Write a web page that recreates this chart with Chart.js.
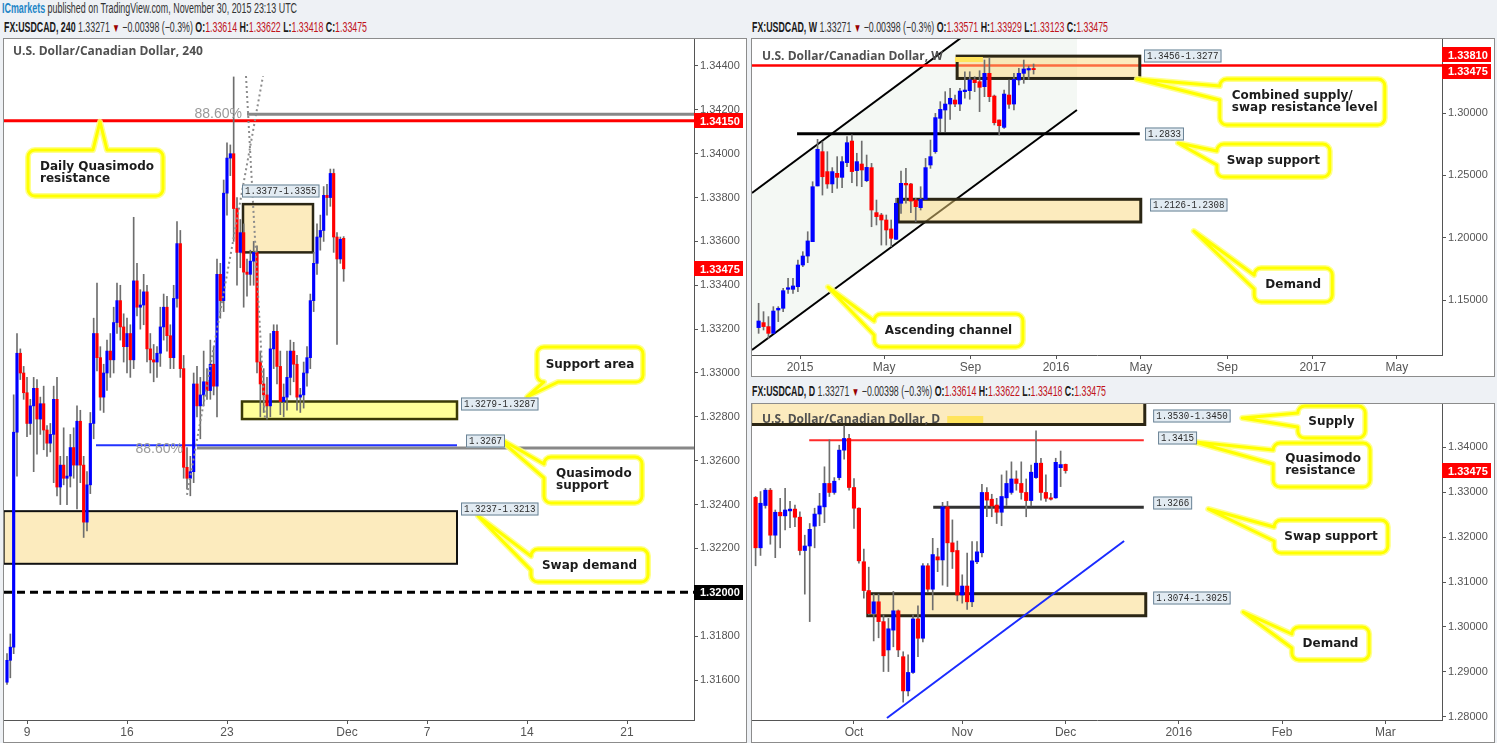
<!DOCTYPE html>
<html>
<head>
<meta charset="utf-8">
<title>USDCAD 240 / W / D</title>
<script src="https://cdn.jsdelivr.net/npm/chart.js@4.4.1/dist/chart.umd.min.js"></script>
<style>
  html, body { margin: 0; padding: 0; }
  body { width: 1497px; height: 743px; background: #eef1f5; position: relative; overflow: hidden; font-family: "Liberation Sans", Arial, sans-serif; }
  .line { position: absolute; white-space: nowrap; font-size: 14px; line-height: 16px; color: #333; transform-origin: 0 50%; }
  .line b { color: #1a1a1a; }
  .brand { color: #1f86c7; font-weight: bold; }
  .r { color: #c0131b; }
  .dn { color: #990000; font-size: 12px; }
  .panel { position: absolute; border: 1px solid #8c8c8c; background: #fff; }
  .panel canvas { display: block; }
</style>
</head>
<body>

<div class="line" data-w="295" style="left:2px;top:0px"><span class="brand">ICmarkets</span> published on TradingView.com, November 30, 2015 23:13 UTC</div>
<div class="line" data-w="363" style="left:4px;top:19px"><b>FX:USDCAD, 240</b> 1.33271 <span class="dn">&#9660;</span> &minus;0.00398 (&minus;0.3%) <b>O:</b><span class="r">1.33614</span> <b>H:</b><span class="r">1.33622</span> <b>L:</b><span class="r">1.33418</span> <b>C:</b><span class="r">1.33475</span></div>
<div class="line" data-w="356" style="left:752px;top:19px"><b>FX:USDCAD, W</b> 1.33271 <span class="dn">&#9660;</span> &minus;0.00398 (&minus;0.3%) <b>O:</b><span class="r">1.33571</span> <b>H:</b><span class="r">1.33929</span> <b>L:</b><span class="r">1.33123</span> <b>C:</b><span class="r">1.33475</span></div>
<div class="line" data-w="354" style="left:752px;top:383px"><b>FX:USDCAD, D</b> 1.33271 <span class="dn">&#9660;</span> &minus;0.00398 (&minus;0.3%) <b>O:</b><span class="r">1.33614</span> <b>H:</b><span class="r">1.33622</span> <b>L:</b><span class="r">1.33418</span> <b>C:</b><span class="r">1.33475</span></div>

<div class="panel" style="left:3px;top:38px;width:742px;height:703px"><canvas id="c4h" width="742" height="703"></canvas></div>
<div class="panel" style="left:751px;top:38px;width:742px;height:337px"><canvas id="cw" width="742" height="337"></canvas></div>
<div class="panel" style="left:751px;top:403px;width:742px;height:338px"><canvas id="cd" width="742" height="338"></canvas></div>

<script>
// ---------- 240 minute bars (6 per trading day, bar 0 = first bar of Nov 9) ----------
const H4_START = -6;
const H4_OPEN = [1.3159,1.3169,1.3175,1.3273,1.3309,1.3300,
  1.3291,1.3277,1.3285,1.3293,1.3279,1.3286, 1.3274,1.3268,1.3272,1.3288,1.3248,1.3258,
  1.3252,1.3253,1.3266,1.3258,1.3278,1.3258, 1.3232,1.3249,1.3277,1.3318,1.3307,1.3289,
  1.3300,1.3310,1.3306,1.3323,1.3333,1.3321, 1.3312,1.3318,1.3306,1.3342,1.3330,1.3331,
  1.3337,1.3311,1.3306,1.3305,1.3309,1.3321, 1.3330,1.3317,1.3307,1.3334,1.3359,1.3302,
  1.3257,1.3252,1.3255,1.3295,1.3285,1.3290, 1.3296,1.3292,1.3304,1.3294,1.3345,1.3333,
  1.3382,1.3398,1.3400,1.3375,1.3355,1.3364, 1.3346,1.3345,1.3351,1.3355,1.3305,1.3295,
  1.3290,1.3285,1.3311,1.3319,1.3303,1.3287, 1.3289,1.3298,1.3310,1.3304,1.3289,1.3290,
  1.3300,1.3307,1.3333,1.3350,1.3362,1.3365, 1.3381,1.3380,1.3391,1.3362,1.3352,1.33614];
const H4_HIGH = [1.3172,1.3181,1.3290,1.3318,1.3311,1.3303,
  1.3298,1.3288,1.3298,1.3297,1.3289,1.3294, 1.3276,1.3277,1.3294,1.3298,1.3262,1.3275,
  1.3262,1.3272,1.3275,1.3285,1.3283,1.3262, 1.3255,1.3282,1.3325,1.3341,1.3312,1.3304,
  1.3315,1.3318,1.3330,1.3341,1.3340,1.3327, 1.3325,1.3322,1.3371,1.3350,1.3338,1.3345,
  1.3340,1.3318,1.3313,1.3312,1.3330,1.3336, 1.3335,1.3322,1.3340,1.3369,1.3365,1.3308,
  1.3266,1.3262,1.3300,1.3303,1.3298,1.3310, 1.3302,1.3315,1.3312,1.3352,1.3350,1.3388,
  1.3405,1.3404,1.3435,1.3380,1.3370,1.3368, 1.3352,1.3356,1.3360,1.3358,1.3310,1.3302,
  1.3298,1.3318,1.3322,1.3322,1.3310,1.3295, 1.3310,1.3315,1.3314,1.3308,1.3293,1.3305,
  1.3312,1.3336,1.3355,1.3368,1.3372,1.3385, 1.3386,1.3393,1.3393,1.3364,1.3362,1.33622];
const H4_LOW = [1.3158,1.3161,1.3172,1.3253,1.3297,1.3288,
  1.3271,1.3272,1.3255,1.3263,1.3272,1.3265, 1.3262,1.3264,1.3250,1.3244,1.3240,1.3249,
  1.3240,1.3248,1.3252,1.3238,1.3250,1.3225, 1.3228,1.3245,1.3270,1.3301,1.3283,1.3282,
  1.3292,1.3298,1.3300,1.3318,1.3315,1.3305, 1.3300,1.3298,1.3302,1.3326,1.3320,1.3322,
  1.3305,1.3300,1.3296,1.3298,1.3303,1.3315, 1.3310,1.3302,1.3302,1.3330,1.3298,1.3252,
  1.3247,1.3244,1.3250,1.3280,1.3270,1.3285, 1.3288,1.3288,1.3290,1.3280,1.3325,1.3328,
  1.3372,1.3390,1.3360,1.3340,1.3348,1.3330, 1.3335,1.3340,1.3340,1.3300,1.3280,1.3282,
  1.3279,1.3280,1.3302,1.3295,1.3281,1.3280, 1.3283,1.3290,1.3296,1.3283,1.3282,1.3284,
  1.3294,1.3302,1.3328,1.3345,1.3356,1.3360, 1.3372,1.3376,1.3355,1.3313,1.3350,1.33418];
const H4_CLOSE = [1.3169,1.3175,1.3273,1.3309,1.3300,1.3291,
  1.3277,1.3285,1.3293,1.3279,1.3286,1.3274, 1.3268,1.3272,1.3288,1.3248,1.3258,1.3252,
  1.3253,1.3266,1.3258,1.3278,1.3258,1.3232, 1.3249,1.3277,1.3318,1.3307,1.3289,1.3300,
  1.3310,1.3306,1.3323,1.3333,1.3321,1.3312, 1.3318,1.3306,1.3342,1.3330,1.3331,1.3337,
  1.3311,1.3306,1.3305,1.3309,1.3321,1.3330, 1.3317,1.3307,1.3334,1.3359,1.3302,1.3257,
  1.3252,1.3255,1.3295,1.3285,1.3290,1.3296, 1.3292,1.3304,1.3294,1.3345,1.3333,1.3382,
  1.3398,1.3400,1.3375,1.3355,1.3364,1.3346, 1.3345,1.3351,1.3355,1.3305,1.3295,1.3290,
  1.3285,1.3311,1.3319,1.3303,1.3287,1.3289, 1.3298,1.3310,1.3304,1.3289,1.3290,1.3300,
  1.3307,1.3333,1.3350,1.3362,1.3365,1.3381, 1.3380,1.3391,1.3362,1.3352,1.3361,1.33475];
const H4_XTICKS = [0, 30, 60, 96, 120, 150, 180];
const H4_XLABELS = ['9', '16', '23', 'Dec', '7', '14', '21'];
const H4_YTICKS = [1.316, 1.318, 1.320, 1.322, 1.324, 1.326, 1.328, 1.330, 1.332, 1.334, 1.336, 1.338, 1.340, 1.342, 1.344];

// ---------- weekly bars (first bar = week of 2014-11-03) ----------
const W_FIRST = '2014-11-03';
const W_OPEN = [1.1279,1.1319,1.1287,1.1233,1.1420,1.1434,1.1586,1.1586,1.1607,1.1781,1.1853,1.1968,1.2415,1.2690,1.2530,1.2431,1.2516,1.2484,1.2602,1.2775,
  1.2538,1.2591,1.2457,1.2562,1.2201,1.2182,1.2142,1.2070,1.1987,1.2276,1.2436,1.2431,1.2302,1.2241,1.2308,1.2583,1.2690,1.2957,1.3024,1.3072,
  1.3104,1.3072,1.3171,1.3179,1.3265,1.3251,1.3211,1.3318,1.3136,1.2944,1.2885,1.3144,1.3072,1.3265,1.3318,1.3345,1.33571];
const W_HIGH = [1.1474,1.1407,1.1367,1.1447,1.1447,1.1594,1.1674,1.1674,1.1821,1.1888,1.2048,1.2449,1.2789,1.2770,1.2690,1.2562,1.2650,1.2650,1.2810,1.2824,
  1.2677,1.2775,1.2663,1.2596,1.2302,1.2195,1.2182,1.2142,1.2316,1.2535,1.2556,1.2436,1.2316,1.2409,1.2636,1.2783,1.2997,1.3091,1.3171,1.3198,
  1.3144,1.3198,1.3331,1.3331,1.3291,1.3339,1.3425,1.3438,1.3144,1.2944,1.3184,1.3265,1.3318,1.3358,1.3425,1.3377,1.33929];
const W_LOW = [1.1233,1.1260,1.1193,1.1233,1.1327,1.1407,1.1554,1.1554,1.1567,1.1768,1.1800,1.1968,1.2415,1.2342,1.2396,1.2361,1.2396,1.2401,1.2570,1.2441,
  1.2415,1.2409,1.2449,1.2088,1.2102,1.1941,1.1941,1.1928,1.1987,1.2195,1.2276,1.2201,1.2129,1.2222,1.2308,1.2556,1.2677,1.2850,1.2850,1.2949,
  1.3051,1.3019,1.3118,1.3110,1.3171,1.3011,1.3131,1.3091,1.2904,1.2824,1.2877,1.3037,1.3024,1.3225,1.3238,1.3270,1.33123];
const W_CLOSE = [1.1332,1.1287,1.1233,1.1412,1.1434,1.1575,1.1599,1.1613,1.1781,1.1853,1.1974,1.2409,1.2709,1.2489,1.2431,1.2530,1.2484,1.2610,1.2762,1.2530,
  1.2610,1.2543,1.2564,1.2222,1.2169,1.2142,1.2062,1.1995,1.2276,1.2436,1.2423,1.2294,1.2249,1.2308,1.2562,1.2650,1.2963,1.3029,1.3072,1.3118,
  1.3072,1.3176,1.3184,1.3265,1.3243,1.3206,1.3318,1.3131,1.2922,1.2898,1.3152,1.3070,1.3270,1.3318,1.3353,1.3357,1.33475];
const W_TICK_DATES = ['2015-01-01', '2015-05-01', '2015-09-01', '2016-01-01', '2016-05-01', '2016-09-01', '2017-01-01', '2017-05-01'];
const W_XLABELS = ['2015', 'May', 'Sep', '2016', 'May', 'Sep', '2017', 'May'];
const W_YTICKS = [1.15, 1.20, 1.25, 1.30];

// ---------- daily bars (weekdays, index 0 = Oct 1 2015) ----------
const D_START = -20;
const D_OPEN = [1.3288,1.3176,1.3270,1.3304,1.3204,1.3255,1.3247,1.3258,1.3262,1.3244,1.3170,1.3180,1.3224,1.3251,1.3267,1.3319,1.3299,1.3332,1.3393,1.3419,
  1.3310,1.3264,1.3145,1.3081,1.3030,1.3056,1.3012,1.2949,1.2993,1.3036,1.2934,1.2858,1.2899,1.3018,1.2975,1.3136,1.3084,1.3156,1.3149,1.3267,
  1.3187,1.3170,1.3071,1.3091,1.3056,1.3145,1.3165,1.3299,1.3284,1.3271,1.3255,1.3287,1.3299,1.3329,1.3319,1.3299,1.3281,1.3332,1.3364,1.3299,
  1.3287,1.3287,1.3354,1.33614];
const D_HIGH = [1.3290,1.3301,1.3308,1.3308,1.3260,1.3286,1.3308,1.3279,1.3271,1.3256,1.3204,1.3230,1.3264,1.3297,1.3356,1.3416,1.3332,1.3404,1.3447,1.3428,
  1.3330,1.3265,1.3173,1.3133,1.3073,1.3073,1.3027,1.3019,1.3079,1.3038,1.2945,1.2938,1.3027,1.3047,1.3141,1.3141,1.3197,1.3175,1.3277,1.3279,
  1.3238,1.3191,1.3116,1.3164,1.3190,1.3190,1.3317,1.3310,1.3295,1.3286,1.3338,1.3347,1.3367,1.3347,1.3367,1.3329,1.3360,1.3436,1.3375,1.3338,
  1.3297,1.3375,1.3391,1.33622];
const D_LOW = [1.3136,1.3159,1.3264,1.3184,1.3154,1.3176,1.3216,1.3221,1.3223,1.3160,1.3073,1.3012,1.3176,1.3225,1.3232,1.3290,1.3295,1.3327,1.3373,1.3304,
  1.3219,1.3142,1.3064,1.3027,1.2969,1.2976,1.2901,1.2901,1.2956,1.2934,1.2833,1.2847,1.2897,1.2934,1.2967,1.3079,1.3038,1.3123,1.3093,1.3090,
  1.3130,1.3058,1.3053,1.3039,1.3045,1.3141,1.3156,1.3245,1.3245,1.3230,1.3225,1.3270,1.3295,1.3304,1.3284,1.3245,1.3269,1.3330,1.3282,1.3279,
  1.3282,1.3286,1.3312,1.33418];
const D_CLOSE = [1.3176,1.3275,1.3304,1.3204,1.3255,1.3247,1.3260,1.3262,1.3244,1.3170,1.3180,1.3217,1.3251,1.3269,1.3319,1.3299,1.3324,1.3393,1.3419,1.3310,
  1.3264,1.3147,1.3081,1.3030,1.3056,1.3012,1.2936,1.2996,1.3036,1.2949,1.2858,1.2899,1.3018,1.2975,1.3136,1.3084,1.3161,1.3149,1.3267,1.3187,
  1.3167,1.3071,1.3091,1.3056,1.3147,1.3167,1.3299,1.3282,1.3269,1.3255,1.3290,1.3319,1.3329,1.3319,1.3299,1.3281,1.3344,1.3364,1.3299,1.3286,
  1.3284,1.3366,1.3361,1.33475];
const D_XTICKS = [0, 22, 43, 66, 87, 108];
const D_XLABELS = ['Oct', 'Nov', 'Dec', '2016', 'Feb', 'Mar'];
const D_YTICKS = [1.28, 1.29, 1.30, 1.31, 1.32, 1.33, 1.34];

const LAST = 1.33475;

// ---------- helpers ----------
const CREAM = 'rgba(249,215,126,0.5)';
const BOX_EDGE = '#2b2614';

function candleSets(xs, o, h, l, c, bodyW) {
  const col = o.map((v, i) => (c[i] >= v ? '#0000ff' : '#ff0000'));
  return [
    { data: xs.map((x, i) => ({ x, y: [l[i], h[i]] })), backgroundColor: '#6e6e6e', barThickness: 1, grouped: false, order: 2 },
    { data: xs.map((x, i) => ({ x, y: [o[i], c[i]] })), backgroundColor: col, barThickness: bodyW, minBarLength: 1, grouped: false, order: 1 }
  ];
}

function callout(ctx, bx1, by1, bx2, by2, tx, ty, side, lines) {
  const r = 7, hw = 7;
  const cl = (v, lo, hi) => Math.max(lo, Math.min(hi, v));
  ctx.beginPath();
  ctx.moveTo(bx1 + r, by1);
  if (side === 'top') {
    const c = cl(tx, bx1 + r + hw, bx2 - r - hw);
    ctx.lineTo(c - hw, by1); ctx.lineTo(tx, ty); ctx.lineTo(c + hw, by1);
  }
  ctx.lineTo(bx2 - r, by1); ctx.arcTo(bx2, by1, bx2, by1 + r, r);
  ctx.lineTo(bx2, by2 - r); ctx.arcTo(bx2, by2, bx2 - r, by2, r);
  if (side === 'bottom') {
    const c = cl(tx, bx1 + r + hw, bx2 - r - hw);
    ctx.lineTo(c + hw, by2); ctx.lineTo(tx, ty); ctx.lineTo(c - hw, by2);
  }
  ctx.lineTo(bx1 + r, by2); ctx.arcTo(bx1, by2, bx1, by2 - r, r);
  if (side === 'left') {
    const c = cl(ty, by1 + r + hw, by2 - r - hw);
    ctx.lineTo(bx1, c + hw); ctx.lineTo(tx, ty); ctx.lineTo(bx1, c - hw);
  }
  ctx.lineTo(bx1, by1 + r); ctx.arcTo(bx1, by1, bx1 + r, by1, r);
  ctx.closePath();
  ctx.fillStyle = '#fff'; ctx.fill();
  ctx.lineJoin = 'round';
  ctx.strokeStyle = 'rgba(255,255,120,0.85)'; ctx.lineWidth = 6; ctx.stroke();
  ctx.strokeStyle = '#ffff00'; ctx.lineWidth = 3; ctx.stroke();

  ctx.fillStyle = '#1c1c1c';
  ctx.font = 'bold 12px "DejaVu Sans"';
  ctx.textBaseline = 'middle';
  const cy = (by1 + by2) / 2, n = lines.length;
  lines.forEach((s, i) => {
    const y = cy + (i - (n - 1) / 2) * 12.5;
    if (n === 1) { ctx.textAlign = 'center'; ctx.fillText(s, (bx1 + bx2) / 2, y); }
    else { ctx.textAlign = 'left'; ctx.fillText(s, bx1 + 12, y); }
  });
}

function paint(chart, items) {
  const { ctx, chartArea: a } = chart;
  const X = v => chart.scales.x.getPixelForValue(v);
  const Y = v => chart.scales.y.getPixelForValue(v);
  ctx.save();
  ctx.beginPath(); ctx.rect(a.left, a.top, a.right - a.left, a.bottom - a.top); ctx.clip();
  items.forEach(it => {
    ctx.save();
    ctx.setLineDash(it.dash || []);
    if (it.t === 'hline') {
      const x1 = it.x1 == null ? a.left : X(it.x1), x2 = it.x2 == null ? a.right : X(it.x2);
      ctx.strokeStyle = it.color; ctx.lineWidth = it.w;
      ctx.beginPath(); ctx.moveTo(x1, Y(it.y)); ctx.lineTo(x2, Y(it.y)); ctx.stroke();
    } else if (it.t === 'seg') {
      ctx.strokeStyle = it.color; ctx.lineWidth = it.w;
      ctx.beginPath(); ctx.moveTo(X(it.x1), Y(it.y1)); ctx.lineTo(X(it.x2), Y(it.y2)); ctx.stroke();
    } else if (it.t === 'poly') {
      ctx.fillStyle = it.fill;
      ctx.beginPath();
      it.pts.forEach((p, i) => (i ? ctx.lineTo(X(p[0]), Y(p[1])) : ctx.moveTo(X(p[0]), Y(p[1]))));
      ctx.closePath(); ctx.fill();
    } else if (it.t === 'box') {
      const x1 = X(it.x1), x2 = X(it.x2), y1 = Y(it.y1), y2 = Y(it.y2);
      ctx.fillStyle = it.fill; ctx.fillRect(x1, y1, x2 - x1, y2 - y1);
      ctx.strokeStyle = it.stroke; ctx.lineWidth = it.w; ctx.strokeRect(x1, y1, x2 - x1, y2 - y1);
    } else if (it.t === 'text') {
      ctx.font = it.font; ctx.fillStyle = it.color; ctx.textAlign = it.align || 'left'; ctx.textBaseline = 'middle';
      ctx.fillText(it.text, X(it.x), Y(it.y));
    } else if (it.t === 'tag') {
      const w = it.text.length * 5.5, x = X(it.x), y = Math.round(Y(it.y));
      ctx.fillStyle = '#e2ebf2'; ctx.fillRect(x, y - 6.5, w + 6, 13);
      ctx.strokeStyle = '#6b8396'; ctx.lineWidth = 1; ctx.strokeRect(x + 0.5, y - 6, w + 5, 12);
      ctx.fillStyle = '#2a2a2a'; ctx.font = '11px "Liberation Mono"'; ctx.textAlign = 'left'; ctx.textBaseline = 'middle';
      ctx.fillText(it.text, x + 3, y + 0.5, w);
    } else if (it.t === 'callout') {
      callout(ctx, X(it.x1), Y(it.y1), X(it.x2), Y(it.y2), X(it.tx), Y(it.ty), it.side, it.lines);
    } else if (it.t === 'title') {
      ctx.font = 'bold 12px "Open Sans"'; ctx.fillStyle = '#505050'; ctx.textAlign = 'left'; ctx.textBaseline = 'middle';
      const tw = Math.min(ctx.measureText(it.text).width, it.width);
      ctx.fillText(it.text, a.left + it.dx, a.top + it.dy, it.width);
      if (it.mark) {
        ctx.fillStyle = '#ffe45c';
        ctx.fillRect(a.left + it.dx + tw + it.mark.gap, a.top + it.dy + it.mark.dy, it.mark.w, it.mark.h);
      }
    }
    ctx.restore();
  });
  ctx.restore();
}

function paintTags(chart, tags) {
  const { ctx, chartArea: a, width } = chart;
  tags.forEach(tg => {
    const y = chart.scales.y.getPixelForValue(tg.y) + (tg.shift || 0);
    ctx.fillStyle = tg.bg;
    ctx.fillRect(a.right, Math.round(y - 7.5), width - a.right - 3, 15);
    ctx.fillStyle = '#fff';
    ctx.font = 'bold 11px "Liberation Sans"';
    ctx.textAlign = 'left'; ctx.textBaseline = 'middle';
    ctx.fillText(tg.text, a.right + 6, Math.round(y) + 0.5);
  });
}

function annotPlugin(spec) {
  return {
    id: 'annot',
    beforeDatasetsDraw(chart) { paint(chart, spec.under || []); },
    afterDatasetsDraw(chart) { paint(chart, spec.over || []); },
    afterDraw(chart) { paintTags(chart, spec.tags || []); }
  };
}

function axisGrid() {
  return { display: true, drawOnChartArea: false, drawTicks: true, tickLength: 4, color: '#555', offset: false };
}

function buildChart(id, spec) {
  return new Chart(document.getElementById(id), {
    type: 'bar',
    data: { datasets: spec.datasets },
    options: {
      responsive: false,
      animation: false,
      devicePixelRatio: 1,
      layout: { padding: 0 },
      plugins: { legend: { display: false }, tooltip: { enabled: false } },
      scales: {
        x: {
          type: 'linear', min: spec.xMin, max: spec.xMax, offset: false,
          grid: axisGrid(),
          border: { display: true, color: '#555' },
          ticks: {
            autoSkip: false, maxRotation: 0, color: '#555', padding: 1,
            font: { family: 'Liberation Sans', size: 12 },
            callback: (v, i) => spec.xLabels[i]
          },
          afterBuildTicks: s => { s.ticks = spec.xTicks.map(v => ({ value: v })); },
          afterFit: s => { s.height = spec.xAxisH; s.paddingLeft = 0; s.paddingRight = 0; }
        },
        y: {
          type: 'linear', position: 'right', min: spec.yMin, max: spec.yMax,
          grid: axisGrid(),
          border: { display: true, color: '#555' },
          ticks: {
            color: '#555', padding: 2,
            font: { family: 'Liberation Sans', size: 11 },
            callback: v => Number(v).toFixed(5)
          },
          afterBuildTicks: s => { s.ticks = spec.yTicks.map(v => ({ value: v })); },
          afterFit: s => { s.width = 52; s.paddingTop = 0; s.paddingBottom = 0; }
        }
      }
    },
    plugins: [annotPlugin(spec.annot)]
  });
}

// ---------- 240 chart ----------
const h4X = H4_OPEN.map((_, i) => H4_START + i);
buildChart('c4h', {
  datasets: candleSets(h4X, H4_OPEN, H4_HIGH, H4_LOW, H4_CLOSE, 2.5),
  xMin: -6.9, xMax: 200.1, yMin: 1.314177, yMax: 1.345230, xAxisH: 22,
  xTicks: H4_XTICKS, xLabels: H4_XLABELS, yTicks: H4_YTICKS,
  annot: {
    under: [
      { t: 'hline', y: 1.3415, color: '#ff0000', w: 3 },
      { t: 'hline', y: 1.3418, x1: 66, color: '#888', w: 3 },
      { t: 'hline', y: 1.32658, x1: 51, color: '#888', w: 3 },
      { t: 'hline', y: 1.3267, x1: 20.7, x2: 129, color: '#2233ff', w: 2 },
      { t: 'hline', y: 1.3200, color: '#000', w: 3, dash: [8, 5] },
      { t: 'box', x1: -7, x2: 129, y1: 1.3237, y2: 1.3213, fill: CREAM, stroke: '#111', w: 2 },
      { t: 'box', x1: 64.5, x2: 129, y1: 1.3287, y2: 1.3279, fill: 'rgba(255,255,90,0.62)', stroke: '#3a3a05', w: 2.5 },
      { t: 'box', x1: 64.8, x2: 85.8, y1: 1.3377, y2: 1.3355, fill: CREAM, stroke: BOX_EDGE, w: 2.5 }
    ],
    over: [
      { t: 'seg', x1: 48, y1: 1.32444, x2: 70.8, y2: 1.34354, color: '#8c8c8c', w: 2, dash: [2, 3] },
      { t: 'seg', x1: 65.7, y1: 1.34354, x2: 71.4, y2: 1.32786, color: '#8c8c8c', w: 2, dash: [2, 3] },
      { t: 'text', x: 64.5, y: 1.3418, text: '88.60%', font: '14px "Liberation Sans"', color: '#9a9a9a', align: 'right' },
      { t: 'text', x: 46.8, y: 1.32654, text: '88.60%', font: '14px "Liberation Sans"', color: '#9a9a9a', align: 'right' },
      { t: 'callout', x1: 0.3, x2: 40.8, y1: 1.34017, y2: 1.33807, tx: 21.9, ty: 1.34145, side: 'top', lines: ['Daily Quasimodo', 'resistance'] },
      { t: 'callout', x1: 153, x2: 184.8, y1: 1.33119, y2: 1.32959, tx: 150, ty: 1.32891, side: 'bottom', lines: ['Support area'] },
      { t: 'callout', x1: 155.1, x2: 184.5, y1: 1.32617, y2: 1.32407, tx: 141, ty: 1.32708, side: 'left', lines: ['Quasimodo', 'support'] },
      { t: 'callout', x1: 151.2, x2: 186.3, y1: 1.32197, y2: 1.32047, tx: 135.3, ty: 1.32348, side: 'left', lines: ['Swap demand'] },
      { t: 'tag', x: 64.5, y: 1.3383, text: '1.3377-1.3355' },
      { t: 'tag', x: 130.2, y: 1.32859, text: '1.3279-1.3287' },
      { t: 'tag', x: 131.7, y: 1.32688, text: '1.3267' },
      { t: 'tag', x: 130.2, y: 1.32382, text: '1.3237-1.3213' },
      { t: 'title', text: 'U.S. Dollar/Canadian Dollar, 240', dx: 9, dy: 13, width: 197 }
    ],
    tags: [
      { y: 1.3415, text: '1.34150', bg: '#ff0000' },
      { y: LAST, text: '1.33475', bg: '#ff0000' },
      { y: 1.3200, text: '1.32000', bg: '#000000' }
    ]
  }
});

// ---------- weekly chart ----------
const WEEK = 7 * 86400000, W_ORIGIN = Date.UTC(2015, 0, 1);
const wx = t => (t - W_ORIGIN) / WEEK;
const wX = W_OPEN.map((_, i) => wx(Date.parse(W_FIRST) + i * WEEK));
buildChart('cw', {
  datasets: candleSets(wX, W_OPEN, W_HIGH, W_LOW, W_CLOSE, 3.5),
  xMin: -9.776, xMax: 130.75, yMin: 1.105934, yMax: 1.359343, xAxisH: 21,
  xTicks: W_TICK_DATES.map(s => wx(Date.parse(s))), xLabels: W_XLABELS, yTicks: W_YTICKS,
  annot: {
    under: [
      { t: 'poly', pts: [[-9.78, 1.1099], [56.4, 1.3024], [56.4, 1.4293], [-9.78, 1.2358]], fill: '#f4f8f4' },
      { t: 'seg', x1: -9.78, y1: 1.2358, x2: 56.4, y2: 1.4293, color: '#000', w: 2 },
      { t: 'seg', x1: -9.78, y1: 1.1099, x2: 56.4, y2: 1.3024, color: '#000', w: 2 },
      { t: 'hline', y: 1.3381, color: '#ff0000', w: 2.5 },
      { t: 'hline', y: 1.2833, x1: -0.6, x2: 69.2, color: '#000', w: 3 },
      { t: 'box', x1: 32.0, x2: 69.2, y1: 1.3456, y2: 1.3277, fill: CREAM, stroke: BOX_EDGE, w: 3 },
      { t: 'box', x1: 20.0, x2: 69.4, y1: 1.2308, y2: 1.2126, fill: CREAM, stroke: BOX_EDGE, w: 3 }
    ],
    over: [
      { t: 'callout', x1: 85.5, x2: 119.1, y1: 1.32727, y2: 1.29038, tx: 68.6, ty: 1.32727, side: 'left', lines: ['Combined supply/', 'swap resistance level'] },
      { t: 'callout', x1: 84.9, x2: 107.9, y1: 1.27514, y2: 1.24868, tx: 77.0, ty: 1.27594, side: 'left', lines: ['Swap support'] },
      { t: 'callout', x1: 92.5, x2: 108.4, y1: 1.17570, y2: 1.14844, tx: 80.2, ty: 1.20537, side: 'left', lines: ['Demand'] },
      { t: 'callout', x1: 15.1, x2: 45.4, y1: 1.13881, y2: 1.11235, tx: 5.7, ty: 1.16046, side: 'left', lines: ['Ascending channel'] },
      { t: 'tag', x: 70.06, y: 1.34571, text: '1.3456-1.3277' },
      { t: 'tag', x: 70.26, y: 1.28316, text: '1.2833' },
      { t: 'tag', x: 71.28, y: 1.22622, text: '1.2126-1.2308' },
      { t: 'title', text: 'U.S. Dollar/Canadian Dollar, W', dx: 10, dy: 18, width: 185, mark: { gap: 12, w: 28, h: 5, dy: 0 } }
    ],
    tags: [
      { y: 1.3381, text: '1.33810', bg: '#ff0000', shift: -10.5 },
      { y: LAST, text: '1.33475', bg: '#ff0000', shift: 1.5 }
    ]
  }
});

// ---------- daily chart ----------
const dX = D_OPEN.map((_, i) => D_START + i);
buildChart('cd', {
  datasets: candleSets(dX, D_OPEN, D_HIGH, D_LOW, D_CLOSE, 3.5),
  xMin: -20.73, xMax: 119.51, yMin: 1.279333, yMax: 1.349556, xAxisH: 22,
  xTicks: D_XTICKS, xLabels: D_XLABELS, yTicks: D_YTICKS,
  annot: {
    under: [
      { t: 'box', x1: -21, x2: 59.1, y1: 1.3530, y2: 1.3450, fill: CREAM, stroke: BOX_EDGE, w: 3 },
      { t: 'hline', y: 1.3415, x1: -9.1, x2: 58.9, color: '#ff2a2a', w: 2 },
      { t: 'hline', y: 1.3266, x1: 16.1, x2: 58.9, color: '#333', w: 3 },
      { t: 'box', x1: 2.8, x2: 59.3, y1: 1.3074, y2: 1.3025, fill: CREAM, stroke: BOX_EDGE, w: 3 },
      { t: 'seg', x1: 6.7, y1: 1.27978, x2: 54.9, y2: 1.31911, color: '#1a2bff', w: 2 }
    ],
    over: [
      { t: 'callout', x1: 90.2, x2: 103.9, y1: 1.34911, y2: 1.34200, tx: 78.9, ty: 1.34644, side: 'left', lines: ['Supply'] },
      { t: 'callout', x1: 85.2, x2: 104.9, y1: 1.34089, y2: 1.33111, tx: 69.3, ty: 1.34111, side: 'left', lines: ['Quasimodo', 'resistance'] },
      { t: 'callout', x1: 85.4, x2: 108.5, y1: 1.32378, y2: 1.31644, tx: 72.0, ty: 1.32622, side: 'left', lines: ['Swap support'] },
      { t: 'callout', x1: 89.0, x2: 104.7, y1: 1.30000, y2: 1.29267, tx: 79.1, ty: 1.30333, side: 'left', lines: ['Demand'] },
      { t: 'tag', x: 60.8, y: 1.34689, text: '1.3530-1.3450' },
      { t: 'tag', x: 61.8, y: 1.34211, text: '1.3415' },
      { t: 'tag', x: 60.8, y: 1.32756, text: '1.3266' },
      { t: 'tag', x: 60.8, y: 1.30644, text: '1.3074-1.3025' },
      { t: 'title', text: 'U.S. Dollar/Canadian Dollar, D', dx: 10, dy: 16, width: 181, mark: { gap: 7, w: 36, h: 7, dy: -4 } }
    ],
    tags: [
      { y: LAST, text: '1.33475', bg: '#ff0000' }
    ]
  }
});

// fit header lines to the widths they take in the picture
document.querySelectorAll('.line').forEach(el => {
  const w = el.getBoundingClientRect().width;
  el.style.transform = 'scaleX(' + (Number(el.dataset.w) / w).toFixed(4) + ')';
});
</script>
</body>
</html>
